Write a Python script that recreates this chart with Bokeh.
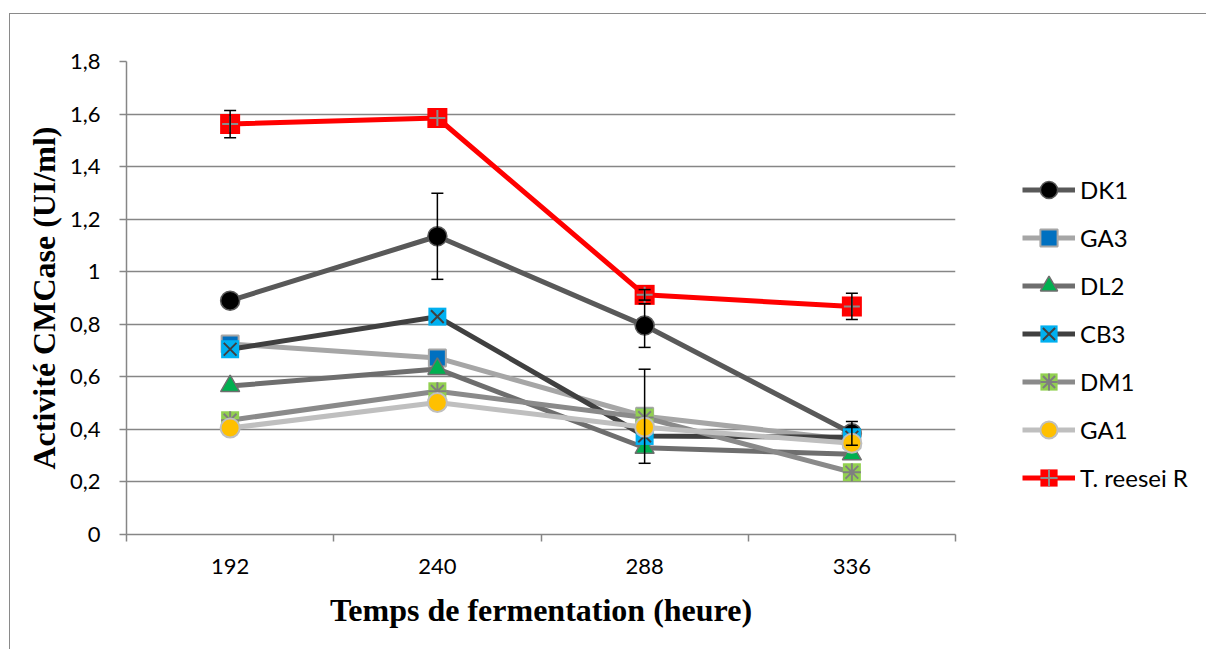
from bokeh.plotting import figure
from bokeh.models import (Range1d, FixedTicker, CustomJSTickFormatter, Legend, LegendItem,
                          Whisker, TeeHead, ColumnDataSource)
from bokeh.embed import file_html
from bokeh.resources import INLINE

# ---- data ----
hours = [192, 240, 288, 336]
hour_bounds = [168, 216, 264, 312, 360]
y_ticks = [0, 0.2, 0.4, 0.6, 0.8, 1.0, 1.2, 1.4, 1.6, 1.8]

DK1 = [0.890, 1.135, 0.795, 0.385]
GA3 = [0.725, 0.672, 0.450, 0.360]
DL2 = [0.565, 0.630, 0.330, 0.305]
CB3 = [0.705, 0.829, 0.375, 0.370]
DM1 = [0.435, 0.545, 0.445, 0.237]
GA1 = [0.405, 0.502, 0.408, 0.347]
TR = [1.562, 1.585, 0.912, 0.868]

DK1_err = [0.0, 0.164, 0.083, 0.045]
GA3_err = [0.0, 0.0, 0.179, 0.0]
TR_err = [0.052, 0.0, 0.02, 0.05]

names = ["DK1", "GA3", "DL2", "CB3", "DM1", "GA1", "T. reesei R"]

p = figure(width=1196, height=635, output_backend="svg", toolbar_location=None,
           x_range=Range1d(168, 360), y_range=Range1d(0, 1.8),
           min_border_left=116, min_border_right=251, min_border_top=47, min_border_bottom=115)
p.frame_width = 829
p.frame_height = 473
p.outline_line_color = None
p.background_fill_color = "white"
p.border_fill_color = "white"
# outer chart frame (gray border at left/top of the chart area)
p.styles = {"margin-left": "9px", "margin-top": "13px",
            "border-left": "1px solid #8a8a8a", "border-top": "1px solid #8a8a8a"}

GRID = "#868686"
p.xgrid.visible = False
p.ygrid.grid_line_color = GRID
p.ygrid.grid_line_width = 1.3
p.ygrid.ticker = FixedTicker(ticks=y_ticks)

# x axis
xa = p.xaxis[0]
xa.ticker = FixedTicker(ticks=hours, minor_ticks=hour_bounds)
xa.axis_line_color = GRID
xa.axis_line_width = 1.5
xa.major_tick_out = 0
xa.major_tick_in = 0
xa.minor_tick_out = 7
xa.minor_tick_in = 0
xa.minor_tick_line_color = GRID
xa.minor_tick_line_width = 1.5
xa.major_label_text_font = "Lato"
xa.major_label_text_font_size = "22px"
xa.major_label_text_color = "black"
xa.major_label_standoff = 17
xa.axis_label = "Temps de fermentation (heure)"
xa.axis_label_text_font = "Liberation Serif"
xa.axis_label_text_font_style = "bold"
xa.axis_label_text_font_size = "32px"
xa.axis_label_text_color = "black"
xa.axis_label_standoff = 15

# y axis
ya = p.yaxis[0]
ya.ticker = FixedTicker(ticks=y_ticks)
ya.formatter = CustomJSTickFormatter(
    code="return Math.abs(tick - Math.round(tick)) < 1e-9 ? tick.toFixed(0) : tick.toFixed(1).replace('.', ',');")
ya.axis_line_color = GRID
ya.axis_line_width = 1.5
ya.major_tick_out = 7
ya.major_tick_in = 0
ya.major_tick_line_color = GRID
ya.major_tick_line_width = 1.5
ya.minor_tick_line_color = None
ya.major_label_text_font = "Lato"
ya.major_label_text_font_size = "22px"
ya.major_label_text_color = "black"
ya.major_label_standoff = 19
ya.axis_label = "Activité CMCase (UI/ml)"
ya.axis_label_text_font = "Liberation Serif"
ya.axis_label_text_font_style = "bold"
ya.axis_label_text_font_size = "32px"
ya.axis_label_text_color = "black"
ya.axis_label_standoff = 5

LW = 5


def errbars(vals, errs):
    b = [h for h, e in zip(hours, errs) if e > 0]
    lo = [v - e for v, e in zip(vals, errs) if e > 0]
    hi = [v + e for v, e in zip(vals, errs) if e > 0]
    src = ColumnDataSource(dict(base=b, lower=lo, upper=hi))
    w = Whisker(source=src, base="base", lower="lower", upper="upper", dimension="height",
                line_color="black", line_width=1.5, level="glyph",
                upper_head=TeeHead(size=12, line_color="black", line_width=1.5),
                lower_head=TeeHead(size=12, line_color="black", line_width=1.5))
    p.add_layout(w)


items = []

# DK1
l = p.line(hours, DK1, line_color="#595959", line_width=LW, line_join="round")
errbars(DK1, DK1_err)
m = p.scatter(hours, DK1, marker="circle", size=19, fill_color="black", line_color="#595959", line_width=1.5)
items.append(LegendItem(label=names[0], renderers=[l, m]))

# GA3
l = p.line(hours, GA3, line_color="#a6a6a6", line_width=LW, line_join="round")
errbars(GA3, GA3_err)
m = p.scatter(hours, GA3, marker="square", size=17, fill_color="#0070c0", line_color="#a6a6a6", line_width=2)
items.append(LegendItem(label=names[1], renderers=[l, m]))

# DL2
l = p.line(hours, DL2, line_color="#6e6e6e", line_width=LW, line_join="round")
m = p.scatter(hours, DL2, marker="triangle", size=19, fill_color="#00b050", line_color="#6e6e6e", line_width=1.5)
items.append(LegendItem(label=names[2], renderers=[l, m]))

# CB3
l = p.line(hours, CB3, line_color="#404040", line_width=LW, line_join="round")
m = p.scatter(hours, CB3, marker="square", size=18, fill_color="#00b0f0", line_color=None)
m2 = p.scatter(hours, CB3, marker="x", size=18, line_color="#404040", line_width=2)
items.append(LegendItem(label=names[3], renderers=[l, m, m2]))

# DM1
l = p.line(hours, DM1, line_color="#8a8a8a", line_width=LW, line_join="round")
m = p.scatter(hours, DM1, marker="square", size=18, fill_color="#92d050", line_color=None)
m2 = p.scatter(hours, DM1, marker="asterisk", size=18, line_color="#7f7f7f", line_width=2)
items.append(LegendItem(label=names[4], renderers=[l, m, m2]))

# GA1
l = p.line(hours, GA1, line_color="#bfbfbf", line_width=LW, line_join="round")
m = p.scatter(hours, GA1, marker="circle", size=19, fill_color="#ffc000", line_color="#bfbfbf", line_width=2)
items.append(LegendItem(label=names[5], renderers=[l, m]))

# T. reesei R
l = p.line(hours, TR, line_color="#ff0000", line_width=LW, line_join="round")
errbars(TR, TR_err)
m = p.scatter(hours, TR, marker="square", size=20, fill_color="#ff0000", line_color=None)
m2 = p.scatter(hours, TR, marker="cross", size=16, line_color="#8c8c8c", line_width=2)
items.append(LegendItem(label=names[6], renderers=[l, m, m2]))

legend = Legend(items=items, location=(67, 35), orientation="vertical",
                padding=0, margin=0, spacing=5, glyph_width=53, glyph_height=43,
                label_height=43, label_standoff=5,
                label_text_font="Lato", label_text_font_size="24px", label_text_color="black",
                border_line_color=None, background_fill_alpha=0)
p.add_layout(legend, "right")

open("out.html", "w").write(file_html(p, INLINE))
